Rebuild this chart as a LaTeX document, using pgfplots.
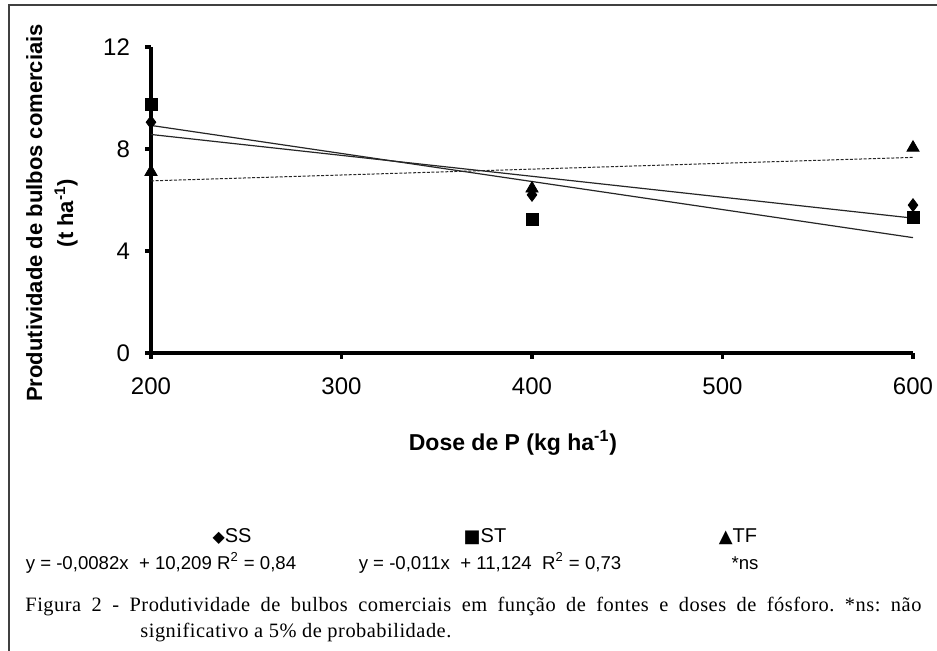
\documentclass[border=0pt]{standalone}
\usepackage{fontspec}
\setmainfont{Liberation Serif}
\setsansfont{Liberation Sans}
\newfontfamily\dejavu{DejaVu Sans}
\newfontfamily\capfont[LetterSpace=2.5]{Liberation Serif}
\usepackage{pgfplots}
\pgfplotsset{compat=1.18}

\begin{document}
\frenchspacing
\begin{tikzpicture}
\useasboundingbox (0,0) rectangle (468.5pt,325.5pt);
\fill[white] (0,0) rectangle (468.5pt,325.5pt);
\draw[line width=0.8pt, black!75] (4.5pt,0) -- (4.5pt,323pt) -- (468.5pt,323pt);
\begin{axis}[
  at={(75.5pt,149pt)}, anchor=south west,
  scale only axis, width=381pt, height=153pt,
  xmin=200, xmax=600, ymin=0, ymax=12,
  axis x line*=bottom, axis y line*=left,
  axis line style={line width=1.6pt, -},
  xtick={200,300,400,500,600}, ytick={0,4,8,12},
  tick align=outside, major tick length=3pt,
  tick style={line width=1.6pt, black},
  ticklabel style={font=\fontsize{12}{12}\selectfont\sffamily},
  /pgf/number format/assume math mode=true,
  xticklabel style={yshift=-6pt},
  yticklabel style={xshift=-4pt},
  clip=false,
]
% trend lines
\addplot[black!85, line width=0.6pt] coordinates {(200,8.569) (600,5.289)};
\addplot[black!85, line width=0.6pt] coordinates {(200,8.924) (600,4.524)};
\addplot[black!85, line width=0.5pt, dash pattern=on 1.5pt off 0.8pt] coordinates {(200,6.75) (600,7.67)};
% data
\addplot[only marks, mark=diamond*, mark size=3.2pt, black] coordinates {(200,9.05) (400,6.2) (600,5.8)};
\addplot[only marks, mark=square*, mark size=3pt, black] coordinates {(200,9.75) (400,5.25) (600,5.3)};
\addplot[only marks, mark=triangle*, mark size=3.5pt, black] coordinates {(200,7.1) (400,6.45) (600,8.05)};
\end{axis}
% axis labels
\node[rotate=90, font=\fontsize{11}{15.5}\selectfont\sffamily\bfseries, align=center] at (26pt,219pt) {Produtividade de bulbos comerciais\\(t ha\textsuperscript{-1})};
\node[font=\fontsize{11.5}{13}\selectfont\sffamily\bfseries] at (256.5pt,104pt) {Dose de P (kg ha\textsuperscript{-1})};
% legend
\node[font=\fontsize{10}{12}\selectfont\sffamily] at (116pt,57pt) {{\dejavu\fontsize{8}{10}\selectfont ◆}SS};
\node[font=\fontsize{10}{12}\selectfont\sffamily] at (242.5pt,57pt) {{\dejavu\fontsize{9}{10}\selectfont ■}ST};
\node[font=\fontsize{10}{12}\selectfont\sffamily] at (369pt,57pt) {{\dejavu\fontsize{9}{10}\selectfont ▲}TF};
\node[font=\fontsize{9.3}{11}\selectfont\sffamily] at (80.5pt,44pt) {y = -0,0082x \ + 10,209 R\textsuperscript{2} = 0,84};
\node[font=\fontsize{9.3}{11}\selectfont\sffamily] at (245pt,44pt) {y = -0,011x \ + 11,124 \ R\textsuperscript{2} = 0,73};
\node[font=\fontsize{9.3}{11}\selectfont\sffamily] at (372.5pt,44pt) {*ns};
% caption
\node[anchor=west, inner sep=0pt, font=\capfont\fontsize{10.2}{12}\selectfont] at (12.5pt,22pt) {\makebox[448pt][s]{Figura 2 - Produtividade de bulbos comerciais em função de fontes e doses de fósforo. *ns: não}};
\node[anchor=west, inner sep=0pt, font=\capfont\fontsize{10.2}{12}\selectfont] at (70pt,9pt) {significativo a 5\% de probabilidade.};
\end{tikzpicture}
\end{document}
